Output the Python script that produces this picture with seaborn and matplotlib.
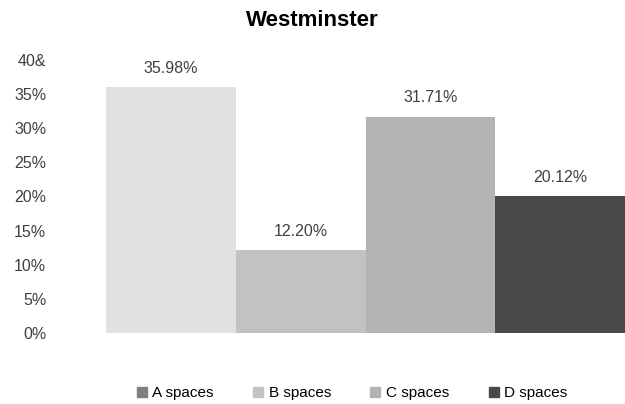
import matplotlib
matplotlib.use("Agg")
import matplotlib.pyplot as plt
from matplotlib.lines import Line2D
import seaborn as sns
import pandas as pd

categories = ["A spaces", "B spaces", "C spaces", "D spaces"]
values = [35.98, 12.20, 31.71, 20.12]
bar_colors = ["#e1e1e1", "#c1c2c1", "#b1b4b3", "#48494b"]
legend_colors = ["#7f7f7f", "#c1c2c1", "#b1b4b3", "#48494b"]
ytick_values = [0, 5, 10, 15, 20, 25, 30, 35, 40]
ytick_labels = ["0%", "5%", "10%", "15%", "20%", "25%", "30%", "35%", "40&"]
title = "Westminster"

sns.set_theme(style="white")
plt.rcParams["font.family"] = ["Liberation Sans", "DejaVu Sans"]

df = pd.DataFrame({"cat": categories, "val": values})

fig = plt.figure(figsize=(6.25, 4.04), dpi=100)
ax = fig.add_axes([106 / 625, 1 - 333 / 404, (625 - 106) / 625, (333 - 60) / 404])
sns.barplot(data=df, x="cat", y="val", hue="cat", palette=bar_colors,
            width=1.0, legend=False, ax=ax, saturation=1, linewidth=0)
ax.set_xlim(-0.5, 3.5)
ax.set_ylim(0, 40)
ax.set_yticks(ytick_values)
ax.set_yticklabels(ytick_labels, fontsize=11.5, color="#404040")
ax.tick_params(axis="y", length=0, pad=43)
ax.set_xticks([])
ax.set_xlabel("")
ax.set_ylabel("")
for s in ax.spines.values():
    s.set_visible(False)

for i, v in enumerate(values):
    ax.annotate(f"{v:.2f}%", (i, v), xytext=(0, 8), textcoords="offset points",
                ha="center", va="bottom", fontsize=11.5, color="#404040")

fig.text(0.5, 1 - 20 / 404, title, ha="center", va="center",
         fontsize=16, fontweight="bold", color="#000000")

handles = [Line2D([0], [0], marker="s", linestyle="none", markersize=7,
                  markerfacecolor=c, markeredgecolor=c) for c in legend_colors]
fig.legend(handles, categories, loc="center", bbox_to_anchor=(347 / 625, 1 - 393 / 404),
           ncol=4, frameon=False, fontsize=11, handletextpad=-0.3,
           columnspacing=1.9, labelcolor="#000000")

fig.savefig("out.png", dpi=100)
